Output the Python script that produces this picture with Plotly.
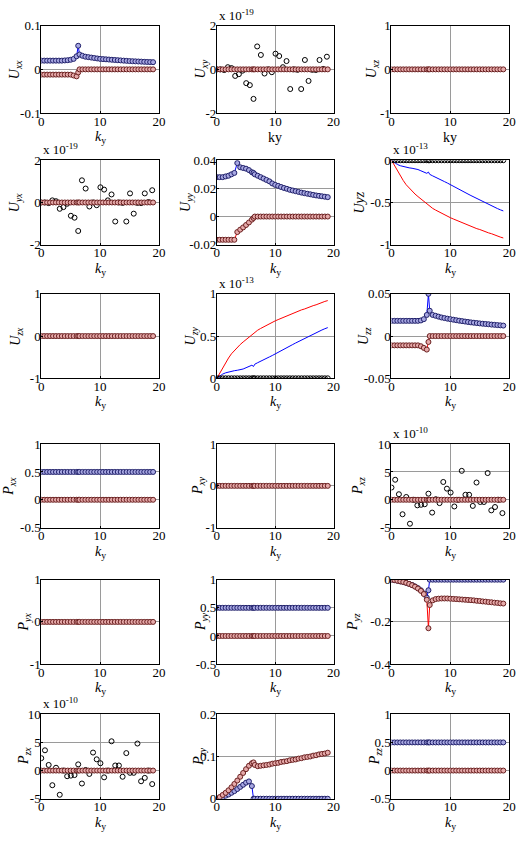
import plotly.graph_objects as go

W, H = 526, 847

# ---------------- data ----------------
k = [0, 0.5, 1, 1.5, 2, 2.5, 3, 3.5, 4, 4.5, 5, 5.5, 6, 6.28, 6.5, 7, 7.5, 8, 8.5, 9,
     9.5, 10, 10.5, 11, 11.5, 12, 12.5, 13, 13.5, 14, 14.5, 15, 15.5, 16, 16.5, 17, 17.5, 18, 18.5, 19]

k_noise = [0, 0.63, 1.26, 1.88, 2.51, 3.14, 3.77, 4.4, 5.03, 5.65, 6.28, 6.91, 7.54, 8.17, 8.8, 9.42,
           10.05, 10.68, 11.31, 11.94, 12.57, 13.19, 13.82, 14.45, 15.08, 15.71, 16.34, 16.96, 17.59, 18.22, 18.85]

zeros = [0, 0, 0, 0, 0, 0, 0, 0, 0, 0, 0, 0, 0, 0, 0, 0, 0, 0, 0, 0,
         0, 0, 0, 0, 0, 0, 0, 0, 0, 0, 0, 0, 0, 0, 0, 0, 0, 0, 0, 0]
halves = [0.5, 0.5, 0.5, 0.5, 0.5, 0.5, 0.5, 0.5, 0.5, 0.5, 0.5, 0.5, 0.5, 0.5, 0.5, 0.5, 0.5, 0.5, 0.5, 0.5,
          0.5, 0.5, 0.5, 0.5, 0.5, 0.5, 0.5, 0.5, 0.5, 0.5, 0.5, 0.5, 0.5, 0.5, 0.5, 0.5, 0.5, 0.5, 0.5, 0.5]

Uxx_blue = [0.020, 0.020, 0.020, 0.020, 0.020, 0.020, 0.020, 0.020, 0.0205, 0.021, 0.022, 0.024, 0.030, 0.054,
            0.034, 0.031, 0.029, 0.028, 0.027, 0.026, 0.025, 0.024, 0.0235, 0.023, 0.0225, 0.022, 0.0215, 0.021,
            0.0205, 0.020, 0.0195, 0.019, 0.0187, 0.0183, 0.018, 0.0177, 0.0173, 0.017, 0.0167, 0.0165]
Uxx_red = [-0.012, -0.012, -0.012, -0.012, -0.012, -0.012, -0.012, -0.012, -0.012, -0.012, -0.012, -0.014,
           -0.016, -0.007, 0, 0, 0, 0, 0, 0, 0, 0, 0, 0, 0, 0, 0, 0, 0, 0, 0, 0, 0, 0, 0, 0, 0, 0, 0, 0]

Uxy_noise = [0, 0, -0.03, 0.1, 0.06, -0.3, -0.22, -0.06, -0.63, -0.72, -1.35, 1.05, 0.66, -0.19, 0.0, -0.13,
             0.72, 0.61, 0.1, 0.38, -0.9, 0.0, -0.02, -0.9, 0.43, -0.53, -0.02, -0.03, 0.43, 0.02, 0.58]

Uyy_blue = [0.028, 0.028, 0.028, 0.0285, 0.029, 0.030, 0.031, 0.038, 0.035, 0.0345, 0.034, 0.033, 0.0315, 0.031,
            0.030, 0.029, 0.028, 0.027, 0.026, 0.025, 0.0235, 0.0225, 0.0218, 0.021, 0.0203, 0.0197, 0.019, 0.0185,
            0.018, 0.0175, 0.017, 0.0166, 0.0162, 0.0158, 0.0154, 0.015, 0.0147, 0.0144, 0.0141, 0.0138]
Uyy_red = [-0.0165, -0.0165, -0.0165, -0.0165, -0.0165, -0.0165, -0.0165, -0.011, -0.0093, -0.0077, -0.006,
           -0.0042, -0.0022, -0.001, 0, 0, 0, 0, 0, 0, 0, 0, 0, 0, 0, 0, 0, 0, 0, 0, 0, 0, 0, 0, 0, 0, 0, 0, 0, 0]

Uyz_blue = [0, -0.03, -0.05, -0.065, -0.075, -0.083, -0.09, -0.095, -0.1, -0.11, -0.125, -0.14, -0.155, -0.14,
            -0.167, -0.185, -0.2, -0.218, -0.235, -0.253, -0.27, -0.29, -0.31, -0.327, -0.345, -0.363, -0.38, -0.4,
            -0.418, -0.436, -0.453, -0.47, -0.488, -0.505, -0.522, -0.54, -0.556, -0.572, -0.587, -0.6]
Uyz_red = [0, -0.06, -0.13, -0.19, -0.24, -0.29, -0.33, -0.37, -0.4, -0.43, -0.46, -0.49, -0.52, -0.53, -0.55,
           -0.57, -0.59, -0.61, -0.63, -0.645, -0.66, -0.68, -0.695, -0.71, -0.725, -0.74, -0.755, -0.77, -0.78,
           -0.795, -0.81, -0.82, -0.835, -0.845, -0.86, -0.87, -0.885, -0.895, -0.91, -0.92]

Uzy_blue = [0, 0.03, 0.05, 0.065, 0.075, 0.083, 0.09, 0.095, 0.1, 0.11, 0.125, 0.14, 0.155, 0.14,
            0.167, 0.185, 0.2, 0.218, 0.235, 0.253, 0.27, 0.29, 0.31, 0.327, 0.345, 0.363, 0.38, 0.4,
            0.418, 0.436, 0.453, 0.47, 0.488, 0.505, 0.522, 0.54, 0.556, 0.572, 0.587, 0.6]
Uzy_red = [0, 0.06, 0.13, 0.19, 0.24, 0.29, 0.33, 0.37, 0.4, 0.43, 0.46, 0.49, 0.52, 0.53, 0.55,
           0.57, 0.59, 0.61, 0.63, 0.645, 0.66, 0.68, 0.695, 0.71, 0.725, 0.74, 0.755, 0.77, 0.78,
           0.795, 0.81, 0.82, 0.835, 0.845, 0.86, 0.87, 0.885, 0.895, 0.91, 0.92]

Uzz_blue = [0.018, 0.018, 0.018, 0.018, 0.018, 0.018, 0.018, 0.018, 0.018, 0.018, 0.0185, 0.020, 0.025, 0.050,
            0.030, 0.025, 0.024, 0.023, 0.022, 0.0213, 0.0206, 0.020, 0.0194, 0.0188, 0.0182, 0.0177, 0.0172,
            0.0167, 0.0162, 0.0158, 0.0154, 0.015, 0.0146, 0.0143, 0.014, 0.0136, 0.0133, 0.013, 0.0127, 0.0124]
Uzz_red = [-0.011, -0.011, -0.011, -0.011, -0.011, -0.011, -0.011, -0.011, -0.011, -0.011, -0.012, -0.014,
           -0.016, -0.007, 0, 0, 0, 0, 0, 0, 0, 0, 0, 0, 0, 0, 0, 0, 0, 0, 0, 0, 0, 0, 0, 0, 0, 0, 0, 0]

Pxz_noise = [2.2, 3.6, 1.0, -2.6, 0.5, -4.3, 0.0, -1.0, -0.9, -0.8, 1.1, -2.3, 0.1, -0.6, 3.2, 2.0,
             1.3, -1.2, 0.0, 5.2, 0.9, 0.9, -1.1, 3.1, -0.4, -0.4, 4.8, -1.9, -1.3, 0.0, -2.4]

Pyz_blue = [0, -0.002, -0.005, -0.008, -0.011, -0.015, -0.02, -0.025, -0.032, -0.04, -0.05, -0.065, -0.085,
            -0.05, 0, 0, 0, 0, 0, 0, 0, 0, 0, 0, 0, 0, 0, 0, 0, 0, 0, 0, 0, 0, 0, 0, 0, 0, 0, 0]
Pyz_red = [0, -0.002, -0.005, -0.008, -0.011, -0.015, -0.02, -0.026, -0.033, -0.042, -0.053, -0.068, -0.095,
           -0.23, -0.12, -0.098, -0.092, -0.09, -0.089, -0.089, -0.089, -0.09, -0.091, -0.092, -0.093, -0.094,
           -0.095, -0.096, -0.097, -0.098, -0.1, -0.101, -0.103, -0.104, -0.106, -0.107, -0.109, -0.11, -0.112, -0.113]

Pzy_blue = [0, 0.002, 0.004, 0.007, 0.01, 0.014, 0.018, 0.023, 0.028, 0.033, 0.038, 0.041, 0.03, 0, 0,
            0, 0, 0, 0, 0, 0, 0, 0, 0, 0, 0, 0, 0, 0, 0, 0, 0, 0, 0, 0, 0, 0, 0, 0, 0]
Pzy_red = [0, 0.004, 0.009, 0.014, 0.02, 0.027, 0.035, 0.043, 0.052, 0.061, 0.07, 0.078, 0.084, 0.086, 0.08,
           0.077, 0.078, 0.079, 0.08, 0.081, 0.083, 0.084, 0.085, 0.087, 0.088, 0.089, 0.091, 0.092, 0.093,
           0.095, 0.096, 0.098, 0.099, 0.1, 0.102, 0.103, 0.105, 0.106, 0.107, 0.109]

# ---------------- layout geometry ----------------
cols_px = [(39, 159), (218, 337), (396, 516)]
rows_px = [(19, 108), (156, 242), (292, 378), (445, 530), (583, 669), (720, 806)]

KY = "<i>k</i><sub>y</sub>"

def yl(letter, sub):
    return "<i>%s</i><sub><i>%s</i></sub>" % (letter, sub)

panels = [
    dict(r=0, c=0, yr=[-0.1, 0.1], yt=[-0.1, 0, 0.1], ytt=["-0.1", "0", "0.1"], yti=yl("U", "xx"), yo=26,
         xt=KY, blue=Uxx_blue, red=Uxx_red, bm=True, rm=True),
    dict(r=0, c=1, yr=[-2, 2], yt=[-2, 0, 2], ytt=["-2", "0", "2"], yti=yl("U", "xy"), yo=16,
         xt="ky", blue=zeros, red=zeros, bm=False, rm=True, noise=Uxy_noise, exp="-19"),
    dict(r=0, c=2, yr=[-1, 1], yt=[-1, 0, 1], ytt=["-1", "0", "1"], yti=yl("U", "xz"), yo=19,
         xt="ky", blue=zeros, red=zeros, bm=False, rm=True),
    dict(r=1, c=0, yr=[-2, 2], yt=[-2, 0, 2], ytt=["-2", "0", "2"], yti=yl("U", "yx"), yo=26,
         xt=KY, blue=zeros, red=zeros, bm=False, rm=True, noise=Uxy_noise, exp="-19"),
    dict(r=1, c=1, yr=[-0.02, 0.04], yt=[-0.02, 0, 0.02, 0.04], ytt=["-0.02", "0", "0.02", "0.04"],
         yti=yl("U", "yy"), yo=31, xt=KY, blue=Uyy_blue, red=Uyy_red, bm=True, rm=True),
    dict(r=1, c=2, yr=[-1, 0], yt=[-1, -0.5, 0], ytt=["-1", "-0.5", "0"], yti="<i>Uyz</i>", yo=33,
         xt=KY, blue=Uyz_blue, red=Uyz_red, bm=False, rm=False, black0=True, exp="-13"),
    dict(r=2, c=0, yr=[-1, 1], yt=[-1, 0, 1], ytt=["-1", "0", "1"], yti=yl("U", "zx"), yo=26,
         xt=KY, blue=zeros, red=zeros, bm=False, rm=True),
    dict(r=2, c=1, yr=[0, 1], yt=[0, 0.5, 1], ytt=["0", "0.5", "1"], yti=yl("U", "zy"), yo=26,
         xt=KY, blue=Uzy_blue, red=Uzy_red, bm=False, rm=False, black0=True, exp="-13"),
    dict(r=2, c=2, yr=[-0.05, 0.05], yt=[-0.05, 0, 0.05], ytt=["-0.05", "0", "0.05"], yti=yl("U", "zz"), yo=28,
         xt=KY, blue=Uzz_blue, red=Uzz_red, bm=True, rm=True),
    dict(r=3, c=0, yr=[-0.5, 1], yt=[-0.5, 0, 0.5, 1], ytt=["-0.5", "0", "0.5", "1"], yti=yl("P", "xx"), yo=32,
         xt=KY, blue=halves, red=zeros, bm=True, rm=True),
    dict(r=3, c=1, yr=[-1, 1], yt=[-1, 0, 1], ytt=["-1", "0", "1"], yti=yl("P", "xy"), yo=18,
         xt=KY, blue=zeros, red=zeros, bm=False, rm=True),
    dict(r=3, c=2, yr=[-5, 10], yt=[-5, 0, 5, 10], ytt=["-5", "0", "5", "10"], yti=yl("P", "xz"), yo=33,
         xt=KY, blue=zeros, red=zeros, bm=False, rm=True, noise=Pxz_noise, exp="-10"),
    dict(r=4, c=0, yr=[-1, 1], yt=[-1, 0, 1], ytt=["-1", "0", "1"], yti=yl("P", "yx"), yo=17,
         xt=KY, blue=zeros, red=zeros, bm=False, rm=True),
    dict(r=4, c=1, yr=[-0.5, 1], yt=[-0.5, 0, 0.5, 1], ytt=["-0.5", "0", "0.5", "1"], yti=yl("P", "yy"), yo=15,
         xt=KY, blue=halves, red=zeros, bm=True, rm=True),
    dict(r=4, c=2, yr=[-0.4, 0], yt=[-0.4, -0.2, 0], ytt=["-0.4", "-0.2", "0"], yti=yl("P", "yz"), yo=38,
         xt=KY, blue=Pyz_blue, red=Pyz_red, bm=True, rm=True),
    dict(r=5, c=0, yr=[-5, 10], yt=[-5, 0, 5, 10], ytt=["-5", "0", "5", "10"], yti=yl("P", "zx"), yo=17,
         xt=KY, blue=zeros, red=zeros, bm=False, rm=True, noise=Pxz_noise, exp="-10"),
    dict(r=5, c=1, yr=[0, 0.2], yt=[0, 0.1, 0.2], ytt=["0", "0.1", "0.2"], yti=yl("P", "zy"), yo=18,
         xt=KY, blue=Pzy_blue, red=Pzy_red, bm=True, rm=True),
    dict(r=5, c=2, yr=[-0.5, 1], yt=[-0.5, 0, 0.5, 1], ytt=["-0.5", "0", "0.5", "1"], yti=yl("P", "zz"), yo=16,
         xt=KY, blue=halves, red=zeros, bm=True, rm=True),
]

FONT = "Liberation Serif"
BLUE_M = dict(symbol="circle", size=5, color="#a8a8e2", line=dict(color="#20206a", width=1))
RED_M = dict(symbol="circle", size=5, color="#e6aaaa", line=dict(color="#6a2020", width=1))
BLACK_M = dict(symbol="circle-open", size=5, color="#000000", line=dict(width=1))

fig = go.Figure()
annotations = []
layout = {}

for i, p in enumerate(panels, start=1):
    xa = "x" if i == 1 else "x%d" % i
    ya = "y" if i == 1 else "y%d" % i
    x0, x1 = cols_px[p["c"]]
    y0, y1 = rows_px[p["r"]]
    dx = [x0 / W, x1 / W]
    dy = [1 - y1 / H, 1 - y0 / H]
    common = dict(showline=True, mirror=True, linecolor="black", linewidth=1,
                  showgrid=True, gridcolor="#9a9a9a", gridwidth=1, zeroline=False,
                  ticks="inside", ticklen=2, tickcolor="black",
                  tickfont=dict(family=FONT, size=13, color="black"))
    layout["xaxis" if i == 1 else "xaxis%d" % i] = dict(
        domain=dx, anchor=ya, range=[0, 20], tickvals=[0, 10, 20], ticktext=["0", "10", "20"],
        ticklabelstandoff=-4, **common)
    layout["yaxis" if i == 1 else "yaxis%d" % i] = dict(
        domain=dy, anchor=xa, range=p["yr"], tickvals=p["yt"], ticktext=p["ytt"],
        ticklabelstandoff=-3, **common)

    fig.add_trace(go.Scatter(x=k, y=p["blue"], mode="lines", line=dict(color="#0000ff", width=1),
                             xaxis=xa, yaxis=ya, showlegend=False, hoverinfo="skip"))
    fig.add_trace(go.Scatter(x=k, y=p["red"], mode="lines", line=dict(color="#ff0000", width=1),
                             xaxis=xa, yaxis=ya, showlegend=False, hoverinfo="skip"))
    if p.get("noise") is not None:
        fig.add_trace(go.Scatter(x=k_noise, y=p["noise"], mode="markers", marker=BLACK_M,
                                 xaxis=xa, yaxis=ya, showlegend=False, hoverinfo="skip"))
    if p.get("bm"):
        fig.add_trace(go.Scatter(x=k, y=p["blue"], mode="markers", marker=BLUE_M,
                                 xaxis=xa, yaxis=ya, showlegend=False, hoverinfo="skip"))
    if p.get("rm"):
        fig.add_trace(go.Scatter(x=k, y=p["red"], mode="markers", marker=RED_M,
                                 xaxis=xa, yaxis=ya, showlegend=False, hoverinfo="skip"))
    if p.get("black0"):
        fig.add_trace(go.Scatter(x=k, y=zeros, mode="markers", marker=BLACK_M,
                                 xaxis=xa, yaxis=ya, showlegend=False, hoverinfo="skip"))

    annotations.append(dict(text=p["yti"], textangle=-90, xref="paper", yref="paper",
                            x=(x0 - p["yo"]) / W, y=1 - (y0 + y1) / 2 / H, xanchor="center", yanchor="middle",
                            showarrow=False, font=dict(family=FONT, size=14, color="black")))
    annotations.append(dict(text=p["xt"], xref="paper", yref="paper",
                            x=(x0 + x1) / 2 / W, y=1 - (y1 + 25) / H, xanchor="center", yanchor="middle",
                            showarrow=False, font=dict(family=FONT, size=14, color="black")))
    if p.get("exp"):
        annotations.append(dict(text="x 10<sup>%s</sup>" % p["exp"], xref="paper", yref="paper",
                                x=x0 / W, y=1 - (y0 - 1) / H, xanchor="left", yanchor="bottom",
                                showarrow=False, font=dict(family=FONT, size=13, color="black")))

fig.update_layout(width=W, height=H, margin=dict(l=0, r=0, t=0, b=0),
                  paper_bgcolor="white", plot_bgcolor="white",
                  annotations=annotations, **layout)

fig.write_html("out.html")
